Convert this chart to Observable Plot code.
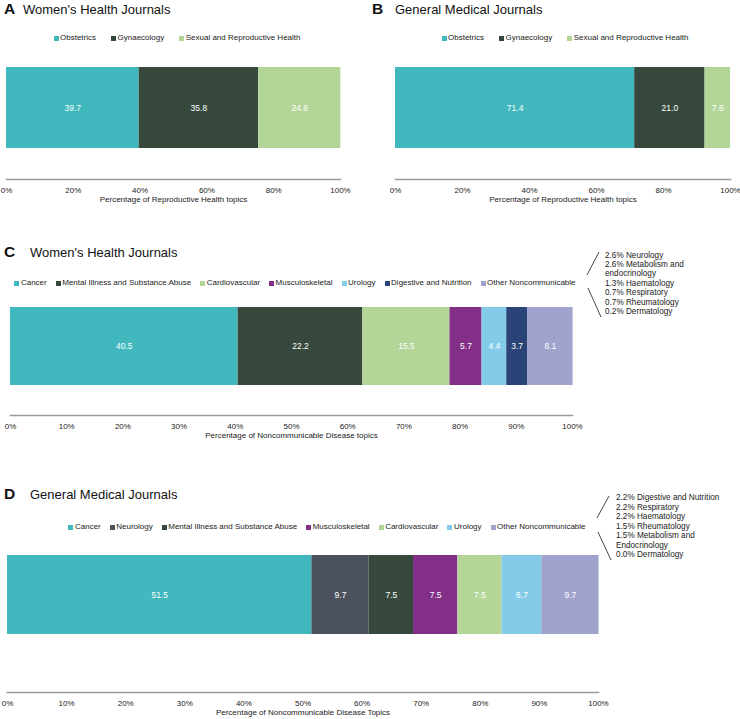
<!DOCTYPE html>
<html>
<head>
<meta charset="utf-8">
<script src="https://cdn.jsdelivr.net/npm/d3@7"></script>
<script src="https://cdn.jsdelivr.net/npm/@observablehq/plot@0.6"></script>
<style>
  html, body { margin: 0; padding: 0; background: #fff; }
  #root { position: relative; width: 740px; height: 719px; overflow: hidden;
          font-family: "Liberation Sans", Arial, sans-serif; color: #111; }
  .abs { position: absolute; white-space: nowrap; line-height: 1; }
  .letter { font-weight: bold; font-size: 15.5px; }
  .title { font-size: 13px; }
  .legend { position: absolute; display: flex; justify-content: center; align-items: center;
            font-size: 8px; line-height: 10px; white-space: nowrap; color: #222; }
  .legend .item { display: flex; align-items: center; }
  .legend .sw { width: 5px; height: 5px; margin-right: 1.5px; display: inline-block; }
  .note { position: absolute; font-size: 8.2px; white-space: nowrap; color: #222; }
  .plot { position: absolute; }
</style>
</head>
<body>
<div id="root"></div>
<script>
// ---------- data ----------
const catsA = ["Obstetrics", "Gynaecology", "Sexual and Reproductive Health"];
const valsA = [39.7, 35.8, 24.6];
const catsB = ["Obstetrics", "Gynaecology", "Sexual and Reproductive Health"];
const valsB = [71.4, 21.0, 7.6];
const catsC = ["Cancer", "Mental Illness and Substance Abuse", "Cardiovascular", "Musculoskeletal", "Urology", "Digestive and Nutrition", "Other Noncommunicable"];
const valsC = [40.5, 22.2, 15.5, 5.7, 4.4, 3.7, 8.1];
const catsD = ["Cancer", "Neurology", "Mental Illness and Substance Abuse", "Musculoskeletal", "Cardiovascular", "Urology", "Other Noncommunicable"];
const valsD = [51.5, 9.7, 7.5, 7.5, 7.5, 6.7, 9.7];
const ticksAB = [0, 20, 40, 60, 80, 100];
const ticksCD = [0, 10, 20, 30, 40, 50, 60, 70, 80, 90, 100];
const otherLinesC = ["2.6% Neurology", "2.6% Metabolism and", "endocrinology", "1.3% Haematology", "0.7% Respiratory", "0.7% Rheumatology", "0.2% Dermatology"];
const otherLinesD = ["2.2% Digestive and Nutrition", "2.2% Respiratory", "2.2% Haematology", "1.5% Rheumatology", "1.5% Metabolism and", "Endocrinology", "0.0% Dermatology"];
const colorCats = ["Obstetrics", "Gynaecology", "Sexual and Reproductive Health", "Cancer", "Mental Illness and Substance Abuse", "Cardiovascular", "Musculoskeletal", "Urology", "Digestive and Nutrition", "Other Noncommunicable", "Neurology"];
const colorVals = ["#41b8bd", "#37493d", "#b3d698", "#41b8bd", "#37493d", "#b3d698", "#832e87", "#84cbe9", "#2b4478", "#a0a4cc", "#4b525e"];

const root = document.getElementById("root");
const colorOf = c => colorVals[colorCats.indexOf(c)];

function addText(cls, text, left, top) {
  const d = document.createElement("div");
  d.className = "abs " + cls;
  d.textContent = text;
  d.style.left = left + "px";
  d.style.top = top + "px";
  root.appendChild(d);
}

function addLegend(cats, left, width, top, gap) {
  const d = document.createElement("div");
  d.className = "legend";
  d.style.left = left + "px";
  d.style.width = width + "px";
  d.style.top = top + "px";
  d.style.columnGap = gap + "px";
  cats.forEach(c => {
    const it = document.createElement("div");
    it.className = "item";
    const sw = document.createElement("span");
    sw.className = "sw";
    sw.style.background = colorOf(c);
    it.appendChild(sw);
    it.appendChild(document.createTextNode(c));
    d.appendChild(it);
  });
  root.appendChild(d);
}

function addNote(lines, left, top, lh) {
  const d = document.createElement("div");
  d.className = "note";
  d.style.left = left + "px";
  d.style.top = top + "px";
  d.style.lineHeight = lh + "px";
  d.innerHTML = lines.join("<br>");
  root.appendChild(d);
}

function addBracket(x1, y1, x2, y2, x3, y3, x4, y4) {
  const ns = "http://www.w3.org/2000/svg";
  const s = document.createElementNS(ns, "svg");
  s.setAttribute("width", 740); s.setAttribute("height", 719);
  s.style.position = "absolute"; s.style.left = "0px"; s.style.top = "0px";
  s.style.pointerEvents = "none";
  [[x1, y1, x2, y2], [x3, y3, x4, y4]].forEach(([a, b, c, e]) => {
    const l = document.createElementNS(ns, "line");
    l.setAttribute("x1", a); l.setAttribute("y1", b);
    l.setAttribute("x2", c); l.setAttribute("y2", e);
    l.setAttribute("stroke", "#333"); l.setAttribute("stroke-width", "0.9");
    s.appendChild(l);
  });
  root.appendChild(s);
}

function panel(cats, vals, cfg) {
  const data = cats.map((c, i) => ({cat: c, value: vals[i], row: "r"}));
  const p = Plot.plot({
    width: cfg.width,
    height: cfg.height,
    marginLeft: cfg.ml,
    marginRight: cfg.mr,
    marginTop: cfg.mt,
    marginBottom: cfg.mb,
    x: {domain: [0, 100], axis: null},
    y: {domain: ["r"], range: cfg.yRange, padding: 0, axis: null},
    color: {domain: cats, range: cats.map(colorOf)},
    style: {fontFamily: "Liberation Sans, Arial, sans-serif", fontSize: "8px", background: "transparent", color: "#222"},
    marks: [
      Plot.barX(data, Plot.stackX({x: "value", y: "row", fill: "cat"})),
      Plot.text(data, Plot.stackX({x: "value", y: "row", text: d => d.value.toFixed(1), fill: "white", fontSize: 8.5})),
      Plot.frame({anchor: "bottom", stroke: "#9a9a9a", strokeWidth: 1.6}),
      Plot.axisX({ticks: cfg.ticks, tickFormat: d => d + "%", tickSize: 0, tickPadding: 8, label: null, fontSize: 8}),
      Plot.text([cfg.label], {text: d => d, frameAnchor: "bottom", dy: 22, fontSize: 8, fill: "#222"})
    ]
  });
  p.classList.add("plot");
  p.style.left = cfg.left + "px";
  p.style.top = cfg.top + "px";
  root.appendChild(p);
}

// ---------- Panel A ----------
addText("letter", "A", 4, 1);
addText("title", "Women's Health Journals", 23, 3);
addLegend(catsA, 27, 300, 33, 15);
panel(catsA, valsA, {left: 0, top: 55, width: 370, height: 160, ml: 6, mr: 30, mt: 12, mb: 36,
  yRange: [12, 93], ticks: ticksAB, label: "Percentage of Reproductive Health topics"});

// ---------- Panel B ----------
addText("letter", "B", 372, 1);
addText("title", "General Medical Journals", 395, 3);
addLegend(catsB, 415, 300, 33, 15);
panel(catsB, valsB, {left: 370, top: 55, width: 370, height: 160, ml: 25, mr: 10, mt: 12, mb: 36,
  yRange: [12, 93], ticks: ticksAB, label: "Percentage of Reproductive Health topics"});

// ---------- Panel C ----------
addText("letter", "C", 4, 244);
addText("title", "Women's Health Journals", 30, 246);
addLegend(catsC, 0, 590, 278, 9);
panel(catsC, valsC, {left: 0, top: 295, width: 600, height: 156, ml: 10, mr: 28, mt: 12, mb: 36,
  yRange: [12, 90], ticks: ticksCD, label: "Percentage of Noncommunicable Disease topics"});
addBracket(599, 252, 587, 275, 588, 288, 601, 317);
addNote(otherLinesC, 605, 250.5, 9.4);

// ---------- Panel D ----------
addText("letter", "D", 4, 486);
addText("title", "General Medical Journals", 30, 488);
addLegend(catsD, 27, 600, 522, 9);
panel(catsD, valsD, {left: 0, top: 545, width: 620, height: 174, ml: 7, mr: 22, mt: 10, mb: 27,
  yRange: [10, 89], ticks: ticksCD, label: "Percentage of Noncommunicable Disease Topics"});
addBracket(609, 496, 597, 518, 598, 532, 611, 560);
addNote(otherLinesD, 616, 493.3, 9.5);
</script>
</body>
</html>
